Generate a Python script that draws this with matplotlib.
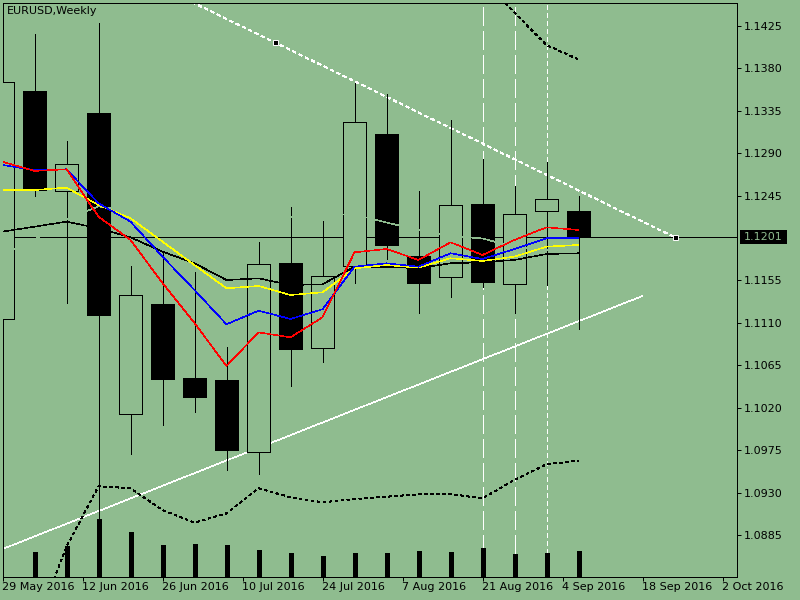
import numpy as np
import matplotlib
matplotlib.use("Agg")
import matplotlib.pyplot as plt
import matplotlib.transforms as mtransforms
from matplotlib.patches import Rectangle

BG = "#8fbc8f"
PX = 0.4  # thin 1-pixel lines at dpi 100

plt.rcParams["font.family"] = ["DejaVu Sans"]
plt.rcParams["lines.scale_dashes"] = False
plt.rcParams["lines.antialiased"] = False
plt.rcParams["patch.antialiased"] = False

# weekly EURUSD bars, 29 May 2016 .. 4 Sep 2016
opens = [1.11138, 1.13560, 1.12500, 1.13324, 1.10130, 1.11301, 1.10516, 1.10494, 1.09734, 1.11733,
         1.10831, 1.11701, 1.13101, 1.11810, 1.11584, 1.12362, 1.11510, 1.12284, 1.12287]
highs = [1.13750, 1.14165, 1.13030, 1.14279, 1.11704, 1.11856, 1.11643, 1.10848, 1.11958, 1.12330,
         1.12181, 1.13648, 1.13529, 1.12500, 1.13253, 1.12839, 1.12553, 1.12807, 1.12447]
lows = [1.10980, 1.12450, 1.11308, 1.09009, 1.09709, 1.10017, 1.10158, 1.09540, 1.09497, 1.10431,
        1.10689, 1.11520, 1.11781, 1.11208, 1.11378, 1.11478, 1.11208, 1.11502, 1.11036]
closes = [1.13653, 1.12510, 1.12783, 1.11184, 1.11393, 1.10505, 1.10314, 1.09752, 1.11722, 1.10823,
          1.11598, 1.13228, 1.11930, 1.11527, 1.12348, 1.11537, 1.12252, 1.12411, 1.12010]
volumes = [np.nan, 25, 31, 58, 45, 32, 33, 32, 27, 24, 21, 24, 24, 26, 25, 29, 23, 24, 26]

ma_red = [1.12810, 1.12712, 1.12730, 1.12227, 1.11980, 1.11523, 1.11099, 1.10643, 1.11000, 1.10947,
          1.11160, 1.11849, 1.11884, 1.11768, 1.11955, 1.11821, 1.11980, 1.12114, 1.12086]
ma_blue = [1.12775, 1.12722, 1.12730, 1.12369, 1.12174, 1.11803, 1.11449, 1.11085, 1.11230, 1.11142,
           1.11245, 1.11696, 1.11733, 1.11696, 1.11839, 1.11778, 1.11884, 1.11998, 1.11998]
ma_yellow = [1.12510, 1.12510, 1.12535, 1.12351, 1.12210, 1.11962, 1.11714, 1.11467, 1.11492, 1.11396,
             1.11425, 1.11679, 1.11714, 1.11686, 1.11786, 1.11757, 1.11803, 1.11909, 1.11927]
ma_black = [1.12068, 1.12121, 1.12174, 1.12104, 1.12008, 1.11856, 1.11733, 1.11555, 1.11573, 1.11502,
            1.11510, 1.11696, 1.11696, 1.11679, 1.11733, 1.11743, 1.11768, 1.11831, 1.11839]
ma_light = [1.11821, 1.11980, 1.12202, 1.12335, 1.12287, 1.12256, 1.12234, 1.12213, 1.12213, 1.12224,
            1.12245, 1.12250, 1.12165, 1.12086, 1.12022, 1.11996, 1.11905, 1.11874, 1.11852]
band_low = [np.nan, 1.07842, 1.08726, 1.09367, 1.09346, 1.09115, 1.08981, 1.09080, 1.09346, 1.09250,
            1.09197, 1.09232, 1.09256, 1.09282, 1.09285, 1.09239, 1.09434, 1.09600, 1.09638]
band_high_idx = [15, 16, 17, 18]
band_high = [1.14756, 1.14391, 1.14048, 1.13895]

bid = 1.1201
# trendlines as (bar index, price) anchors
trend_up = ([0, 20], [1.08701, 1.11386])
trend_down = ([8.5, 21], [1.14077, 1.1201])
vlines_long = [15, 16]
vlines_short = [17]

date_labels = ["29 May 2016", "12 Jun 2016", "26 Jun 2016", "10 Jul 2016", "24 Jul 2016",
               "7 Aug 2016", "21 Aug 2016", "4 Sep 2016", "18 Sep 2016", "2 Oct 2016"]
price_ticks = [1.1425, 1.1380, 1.1335, 1.1290, 1.1245, 1.1155, 1.1110, 1.1065, 1.1020, 1.0975,
               1.0930, 1.0885]

fig = plt.figure(figsize=(8, 6), dpi=100, facecolor=BG)
ax = fig.add_axes([2.5 / 800, 1 - 576.5 / 600, 734.8 / 800, 574 / 600], facecolor=BG)
ax2 = ax.twinx()

x = np.arange(len(opens))
ax.set_xlim(0, 734.8 / 32)
ax.set_ylim(1.08410, 1.14499)

# bid line under everything
ax.axhline(bid, color="black", lw=PX, zorder=1)

# vertical lines
for v in vlines_long:
    ax.axvline(v, color="white", lw=PX, dashes=(13, 4.3), zorder=1.5)
for v in vlines_short:
    ax.axvline(v, color="white", lw=PX, dashes=(3, 2.2), zorder=1.5)

# trendlines
ax.plot(trend_up[0], trend_up[1], color="white", lw=PX, zorder=2)
tx = np.array(trend_down[0])
ty = np.array(trend_down[1])
slope = (ty[1] - ty[0]) / (tx[1] - tx[0])
ext_x = [tx[0] - 4, tx[1]]
ext_y = [ty[0] - 4 * slope, ty[1]]
ax.plot(ext_x, ext_y, color="white", lw=PX, dashes=(2.2, 2.2), zorder=2)
ax.plot(tx, ty, ls="none", marker="s", ms=3.6, mfc="black", mec="white", mew=0.7, zorder=6)

# candles
w = 22.7 / 32
for i in x:
    ax.vlines(i, lows[i], highs[i], color="black", lw=PX, zorder=3)
    lo, hi = min(opens[i], closes[i]), max(opens[i], closes[i])
    face = BG if closes[i] >= opens[i] else "black"
    ax.add_patch(Rectangle((i - w / 2, lo), w, hi - lo, facecolor=face, edgecolor="black",
                           lw=PX, zorder=3.5))

# indicators
ax.plot(x, ma_light, color=BG, lw=PX, zorder=4)
ax.plot(x, band_low, color="black", lw=PX, dashes=(1.5, 2.2), zorder=4)
ax.plot(band_high_idx, band_high, color="black", lw=PX, dashes=(1.5, 2.2), zorder=4)
ax.plot(x, ma_black, color="black", lw=PX, zorder=5)
ax.plot(x, ma_yellow, color="yellow", lw=PX, zorder=5)
ax.plot(x, ma_blue, color="blue", lw=PX, zorder=5)
ax.plot(x, ma_red, color="red", lw=PX, zorder=5)

# volumes
ax2.set_ylim(0, 574)
ax2.vlines(x, 0, volumes, color="black", lw=2.2)
ax2.axis("off")

# axes styling
for s in ax.spines.values():
    s.set_color("black")
    s.set_linewidth(0.72)
ax.yaxis.tick_right()
ax.set_yticks(price_ticks)
ax.set_yticklabels([f"{p:.4f}" for p in price_ticks])
ax.set_xticks(np.arange(len(date_labels)) * 2.5)
ax.set_xticklabels(date_labels, ha="left")
ax.tick_params(axis="both", direction="out", length=3, width=0.72, color="black",
               labelsize=8, labelcolor="black")
ax.tick_params(axis="y", pad=1.5)
ax.tick_params(axis="x", pad=1)

# current price label
tr = mtransforms.blended_transform_factory(ax.transAxes, ax.transData)
ax.add_patch(Rectangle((737.5 / 734.8, bid - 0.00074), 47 / 734.8, 0.00148, transform=tr,
                       facecolor="black", edgecolor="none", clip_on=False, zorder=10))
ax.text(761 / 734.8, bid, f"{bid:.4f}", transform=tr, color=BG, fontsize=8,
        ha="center", va="center", clip_on=False, zorder=11)

fig.text(7 / 800, 1 - 11.5 / 600, "EURUSD,Weekly", fontsize=8, color="black", va="center")

fig.savefig("out.png", dpi=100, facecolor=BG)
